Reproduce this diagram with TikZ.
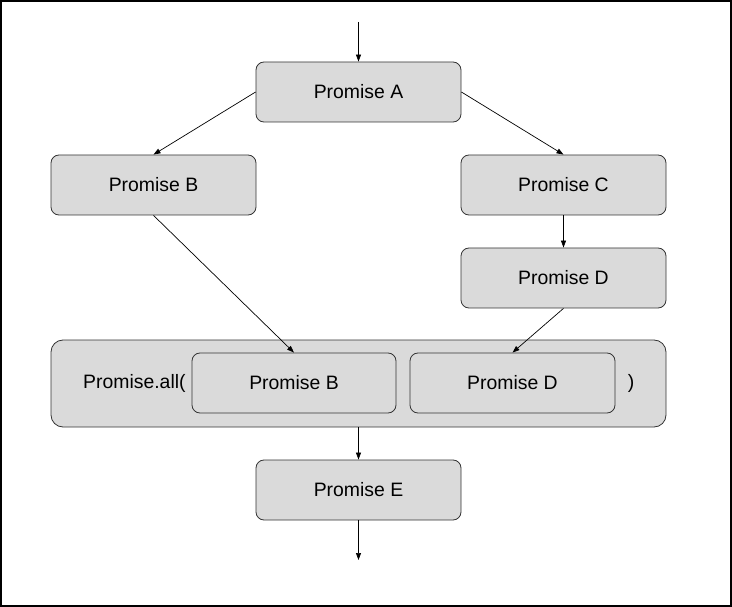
\documentclass[tikz,border=0pt]{standalone}
\usepackage{fontspec}
\setmainfont{Liberation Sans}
\usetikzlibrary{arrows.meta}

\definecolor{boxgray}{HTML}{DADADA}
\definecolor{boxline}{HTML}{333333}

\tikzset{
  promnode/.style={rectangle, rounded corners=8pt, draw=boxline, fill=boxgray, line width=.8pt,
    minimum width=205pt, minimum height=60pt, inner sep=0pt, font=\fontsize{19.4}{21}\selectfont},
  promedge/.style={line width=.7pt, -{Triangle[length=7pt,width=5pt]}}
}

\begin{document}
\begin{tikzpicture}[x=1pt, y=-1pt]
\useasboundingbox (0,0) rectangle (732,607);
\draw[line width=1.6pt] (0.8,0.8) rectangle (731.2,606.2);
\coordinate (top) at (358.5,22);
\coordinate (bottom) at (358.5,560);
\node[promnode] (a) at (358.5,92) {Promise A};
\node[promnode] (b) at (153.5,185) {Promise B};
\node[promnode] (c) at (563.5,185) {Promise C};
\node[promnode] (d) at (563.5,278) {Promise D};
\node[promnode, minimum width=615pt, minimum height=87pt, rounded corners=12pt] (all) at (358.5,383.5) {};
\node[font=\fontsize{19.4}{21}\selectfont, anchor=west, inner sep=0pt] (alltext) at (83,383.5) {Promise.all(};
\node[promnode, minimum width=204pt] (ib) at (294,383) {Promise B};
\node[promnode] (id) at (512.5,383) {Promise D};
\node[font=\fontsize{19.4}{21}\selectfont, inner sep=0pt] (closetext) at (631,383.5) {)};
\node[promnode] (e) at (358.5,490) {Promise E};
\draw[promedge] (top) -- (a);
\draw[promedge] (a.west) -- (b.north);
\draw[promedge] (a.east) -- (c.north);
\draw[promedge] (c) -- (d);
\draw[promedge] (b.south) -- (ib.north);
\draw[promedge] (d.south) -- (id.north);
\draw[promedge] (all) -- (e);
\draw[promedge] (e) -- (bottom);
\end{tikzpicture}
\end{document}
